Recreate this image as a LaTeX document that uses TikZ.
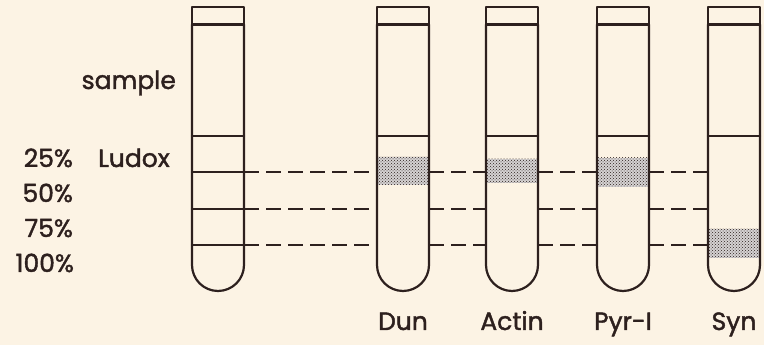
\documentclass[tikz,border=0pt]{standalone}
\usepackage{fontspec}
\newfontfamily\lblfont{Poppins}[FakeBold=1.6]
\usetikzlibrary{patterns}
\definecolor{ink}{RGB}{45,32,30}
\definecolor{paper}{RGB}{252,243,228}
\begin{document}
\begin{tikzpicture}[x=1pt,y=1pt,color=ink,line width=2.2pt,line cap=round,line join=round,
  lbl/.style={font=\lblfont\fontsize{25}{28}\selectfont,inner sep=0pt},
  band/.style={fill=ink!20,postaction={pattern=crosshatch dots,pattern color=ink}},
  level/.style={line cap=butt,dash pattern=on 15pt off 7pt}]
\fill[paper] (0,0) rectangle (764,345);
\useasboundingbox (0,0) rectangle (764,345);
\fill[band] (377,160) rectangle (429,188);
\fill[band] (486,162) rectangle (538,186);
\fill[band] (597,158) rectangle (649,187);
\fill[band] (708,87) rectangle (760,116);
\foreach \n/\l in {ref/192,dun/377,actin/486,pyr/597,syn/708}{
  \draw (\l,320.5) rectangle (\l+52,338);
  \draw (\l,320.5) -- (\l,80) arc[start angle=180,end angle=360,radius=26] -- (\l+52,320.5);
  \draw (\l,209) -- (\l+52,209);
  \foreach \k/\y in {1/173,2/136,3/100}{
    \coordinate (\n-l\k) at (\l,\y);
    \coordinate (\n-r\k) at (\l+52,\y);
  }
  \coordinate (\n-foot) at (\l+26,15);
}
\foreach \k in {1,2,3} \draw (ref-l\k) -- (ref-r\k);
\foreach \a/\b in {ref/dun,dun/actin,actin/pyr,pyr/syn}
  \foreach \k in {1,2,3} \draw[level] (\a-r\k) -- (\b-l\k);
\node[lbl,anchor=base east] (sample) at (177,256) {sample};
\node[lbl,anchor=base west] (ludox) at (97,178) {Ludox};
\node[lbl,anchor=base east] (p25) at (74,178) {25\%};
\node[lbl,anchor=base east] (p50) at (74,143) {50\%};
\node[lbl,anchor=base east] (p75) at (74,108) {75\%};
\node[lbl,anchor=base east] (p100) at (75,73) {100\%};
\node[lbl,anchor=base] (dun-name) at (dun-foot) {Dun};
\node[lbl,anchor=base] (actin-name) at (actin-foot) {Actin};
\node[lbl,anchor=base] (pyr-name) at (pyr-foot) {Pyr-I};
\node[lbl,anchor=base] (syn-name) at (syn-foot) {Syn};
\end{tikzpicture}
\end{document}
